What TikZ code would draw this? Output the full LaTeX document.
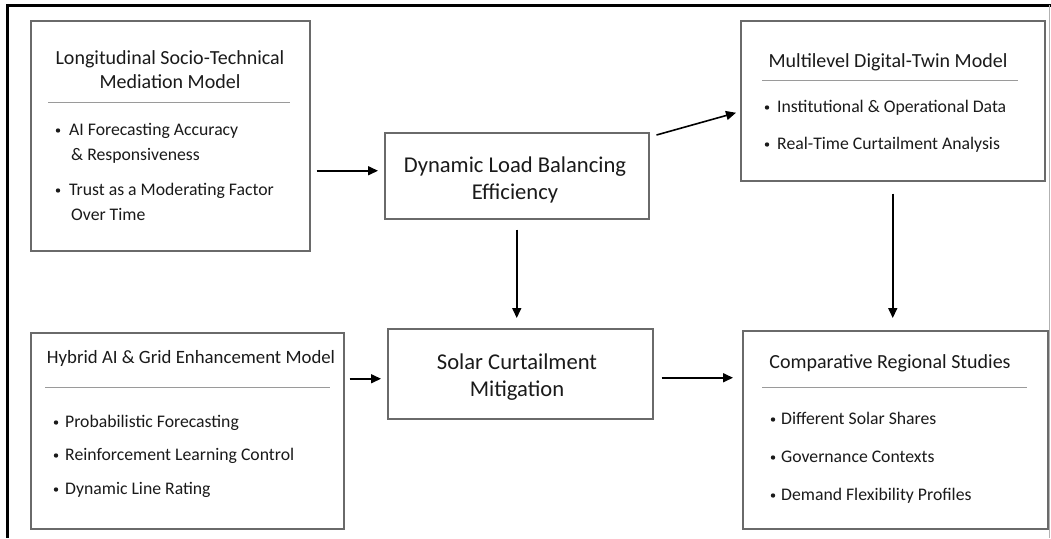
\documentclass[tikz,border=0pt]{standalone}
\usepackage{fontspec}
\setmainfont{Carlito}
\usetikzlibrary{arrows.meta,calc}
\definecolor{ink}{HTML}{1A1A1A}
\definecolor{boxgray}{HTML}{6A6A6A}
\definecolor{rulegray}{HTML}{9A9A9A}
\tikzset{
  box/.style={draw=boxgray, line width=1.5pt, inner sep=0pt, anchor=north west},
  ttl/.style={font=\fontsize{20}{24}\selectfont, text=ink, align=center, inner sep=0pt},
  big/.style={font=\fontsize{22.6}{27}\selectfont, text=ink, align=center, inner sep=0pt},
  itm/.style={font=\fontsize{17.7}{20}\selectfont, text=ink, anchor=mid west, inner sep=0pt},
  dotb/.style={circle, fill=ink, inner sep=0pt, minimum size=4.4pt, yshift=3.5pt},
  rule/.style={draw=rulegray, line width=1pt},
  arr/.style={-{Triangle[length=10pt,width=9pt]}, line width=1.6pt, draw=black},
  frame/.style={line width=2.5pt, draw=black}
}
\begin{document}
\begin{tikzpicture}[x=1pt,y=-1pt]
\useasboundingbox (0,0) rectangle (1051,538);
\fill[white] (0,0) rectangle (1051,538);
% outer frame (top and left edges)
\draw[frame] (1051,5.5) -- (7.5,5.5) -- (7.5,538);
\draw[gray!60, line width=1pt] (1049.5,5) -- (1049.5,538);

% ---- boxes ----
\node[box, minimum width=279pt, minimum height=230pt] (A) at (30,20) {};
\node[box, minimum width=264pt, minimum height=86pt] (B) at (384,132) {};
\node[box, minimum width=304pt, minimum height=160pt] (C) at (740,20) {};
\node[box, minimum width=313pt, minimum height=196pt] (F) at (30,332) {};
\node[box, minimum width=265pt, minimum height=90pt] (D) at (387,328) {};
\node[box, minimum width=305pt, minimum height=198pt] (E) at (742,330) {};

% ---- Longitudinal model ----
\node[ttl] (At) at (170,70) {Longitudinal Socio-Technical\\Mediation Model};
\draw[rule] (48,102) -- (290,102);
\node[dotb] (Ab1) at (58,134) {};
\node[itm] (Ai1) at (69,133) {AI Forecasting Accuracy};
\node[itm] (Ai1b) at (71,158) {\& Responsiveness};
\node[dotb] (Ab2) at (58,194) {};
\node[itm] (Ai2) at (69,193) {Trust as a Moderating Factor};
\node[itm] (Ai2b) at (71,218) {Over Time};

% ---- central boxes ----
\node[big] (Bt) at (515,180) {Dynamic Load Balancing\\Efficiency};
\node[big] (Dt) at (517,377) {Solar Curtailment\\Mitigation};

% ---- Digital twin ----
\node[ttl] (Ct) at (888,62) {Multilevel Digital-Twin Model};
\draw[rule] (762,80) -- (1018,80);
\node[dotb] (Cb1) at (767,111) {};
\node[itm] (Ci1) at (777,110) {Institutional \& Operational Data};
\node[dotb] (Cb2) at (767,148) {};
\node[itm] (Ci2) at (777,147) {Real-Time Curtailment Analysis};

% ---- Hybrid model ----
\node[ttl, font=\fontsize{18.8}{22}\selectfont] (Ft) at (191,358) {Hybrid AI \& Grid Enhancement Model};
\draw[rule] (45,387) -- (330,387);
\node[dotb] (Fb1) at (56,426) {};
\node[itm] (Fi1) at (65,425) {Probabilistic Forecasting};
\node[dotb] (Fb2) at (56,459) {};
\node[itm] (Fi2) at (65,458) {Reinforcement Learning Control};
\node[dotb] (Fb3) at (56,493) {};
\node[itm] (Fi3) at (65,492) {Dynamic Line Rating};

% ---- Regional studies ----
\node[ttl] (Et) at (890,363) {Comparative Regional Studies};
\draw[rule] (762,387) -- (1027,387);
\node[dotb] (Eb1) at (773,423) {};
\node[itm] (Ei1) at (781,422) {Different Solar Shares};
\node[dotb] (Eb2) at (773,461) {};
\node[itm] (Ei2) at (781,460) {Governance Contexts};
\node[dotb] (Eb3) at (773,499) {};
\node[itm] (Ei3) at (781,498) {Demand Flexibility Profiles};

% ---- connectors ----
\draw[arr] ([shift={(6,-5)}]B.west -| A.east) -- ([shift={(-6,-5)}]B.west);
\draw[arr] ([shift={(7,3)}]B.north east) -- ([shift={(-4,12)}]C.west);
\draw[arr, shorten <=10pt, shorten >=10pt] (B.south) -- (B.south |- D.north);
\draw[arr, shorten <=12pt, shorten >=12pt] (C.south) -- (C.south |- E.north);
\draw[arr] ([shift={(5,5)}]D.west -| F.east) -- ([shift={(-6,5)}]D.west);
\draw[arr] ([shift={(8,4)}]D.east) -- ([shift={(-9,4)}]D.east -| E.west);
\end{tikzpicture}
\end{document}
